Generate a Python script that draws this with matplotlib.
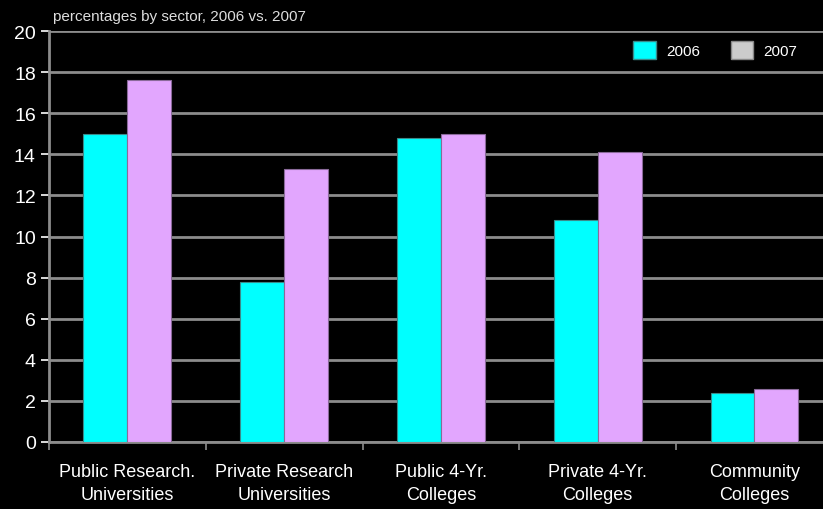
import matplotlib
matplotlib.use('Agg')
import matplotlib.pyplot as plt
import numpy as np
from matplotlib.patches import Patch

plt.rcParams['font.family'] = ['Liberation Sans Narrow', 'Liberation Sans', 'DejaVu Sans']

# data
sectors = ['Public Research.\nUniversities', 'Private Research\nUniversities',
           'Public 4-Yr.\nColleges', 'Private 4-Yr.\nColleges', 'Community\nColleges']
pct_2006 = [15.0, 7.8, 14.8, 10.8, 2.4]
pct_2007 = [17.6, 13.3, 15.0, 14.1, 2.6]
years = ['2006', '2007']

fig = plt.figure(figsize=(8.23, 5.10), dpi=100, facecolor='black')
ax = fig.add_axes([0.0595, 0.1314, 0.9525, 0.8056], facecolor='black')

x = np.arange(len(sectors))
w = 0.28
ax.bar(x - w / 2, pct_2006, w, color='#00FFFF', edgecolor='#3a8a8a', linewidth=0.8, zorder=3)
ax.bar(x + w / 2, pct_2007, w, color='#E2A6FE', edgecolor='#8a6a9a', linewidth=0.8, zorder=3)

ax.set_xlim(-0.5, len(sectors) - 0.5)
ax.set_ylim(0, 20)
ax.set_yticks(np.arange(0, 21, 2))
ax.yaxis.grid(True, color='#8c8c8c', linewidth=2, zorder=0)
ax.set_axisbelow(True)

# x ticks at category boundaries, labels at centers
ax.set_xticks(np.arange(-0.5, len(sectors), 1.0))
ax.set_xticklabels([])
ax.set_xticks(x, minor=True)
ax.set_xticklabels(sectors, minor=True, color='white', fontsize=13, linespacing=1.5)
ax.tick_params(axis='x', which='minor', length=0, pad=15)
ax.tick_params(axis='x', which='major', length=6, color='#8c8c8c', width=1.2)
ax.tick_params(axis='y', colors='white', labelsize=14, length=6, width=1.2)
for t in ax.get_yticklines():
    t.set_color('#8c8c8c')

for s in ['top', 'right']:
    ax.spines[s].set_visible(False)
ax.spines['left'].set_color('#8c8c8c')
ax.spines['left'].set_linewidth(2)
ax.spines['bottom'].set_color('#8c8c8c')
ax.spines['bottom'].set_linewidth(2)

handles = [Patch(facecolor='#00FFFF', edgecolor='#3a8a8a'),
           Patch(facecolor='#CCCCCC', edgecolor='#888888')]
leg = fig.legend(handles, years, loc='upper left', bbox_to_anchor=(0.753, 0.945),
                 ncol=2, frameon=False, handlelength=1.45, handleheight=1.45,
                 columnspacing=2.0, handletextpad=0.7, fontsize=11)
for t in leg.get_texts():
    t.set_color('white')

fig.text(0.065, 0.967, 'percentages by sector, 2006 vs. 2007', color='#dddddd',
         fontsize=11, ha='left', va='center')

fig.savefig('out.png', dpi=100, facecolor='black')
